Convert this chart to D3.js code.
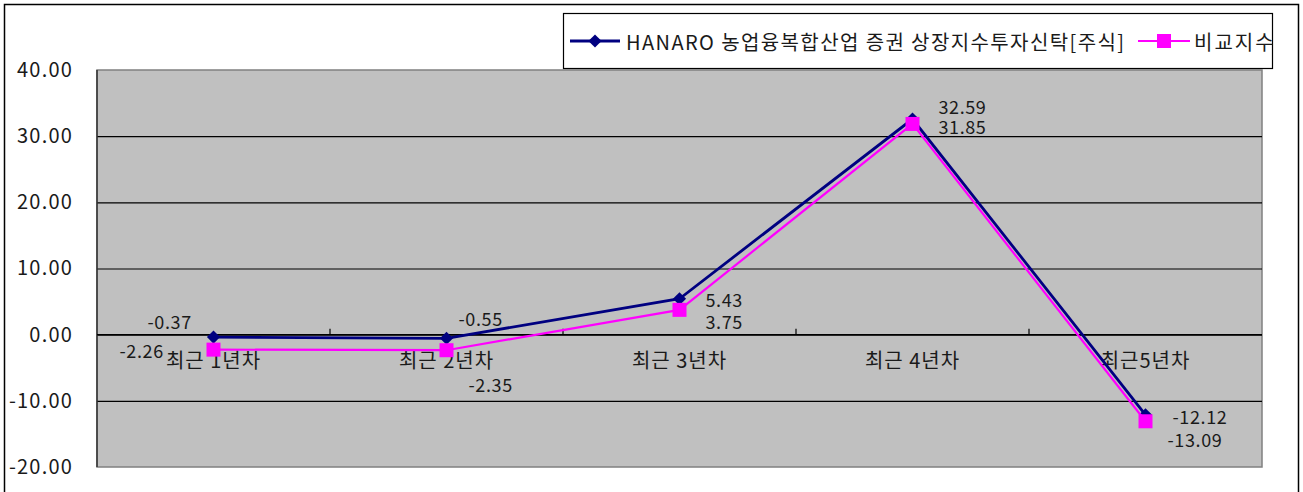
<!DOCTYPE html>
<html>
<head>
<meta charset="utf-8">
<script src="https://cdn.jsdelivr.net/npm/d3@7"></script>
<style>
  body { margin: 0; background: #fff; }
  svg { display: block; }
  text { font-family: "Noto Sans CJK KR", "Noto Sans", sans-serif; fill: #1a1a1a; }
</style>
</head>
<body>
<svg id="chart"></svg>
<script>
// data
const categories = ["최근 1년차", "최근 2년차", "최근 3년차", "최근 4년차", "최근5년차"];
const seriesNames = ["HANARO  농업융복합산업 증권 상장지수투자신탁[주식]", "비교지수"];
const fundValues = [-0.37, -0.55, 5.43, 32.59, -12.12];
const indexValues = [-2.26, -2.35, 3.75, 31.85, -13.09];
const yTicks = [40, 30, 20, 10, 0, -10, -20];

// label placement (offset from the point, text left edge / vertical centre)
const fundLabelOffsets = [[-66, -16], [12, -20], [26, 0], [26, -13], [27, 1]];
const indexLabelOffsets = [[-94, 0], [22, 34], [26, 11], [26, 2], [22, 18]];

const W = 1303, H = 492;
const plot = { left: 97, right: 1262, top: 70, bottom: 467 };

const svg = d3.select('#chart').attr('width', W).attr('height', H);

// outer frame
svg.append('rect')
  .attr('x', 4.5).attr('y', 4.5)
  .attr('width', 1294).attr('height', 520)
  .attr('fill', '#fff')
  .attr('stroke', '#000')
  .attr('stroke-width', 1.5);

const x = d3.scaleBand().domain(categories).range([plot.left, plot.right]);
const cx = d => x(d) + x.bandwidth() / 2;
const y = d3.scaleLinear().domain([-20, 40]).range([plot.bottom, plot.top]);

// plot area
svg.append('rect')
  .attr('x', plot.left).attr('y', plot.top)
  .attr('width', plot.right - plot.left).attr('height', plot.bottom - plot.top)
  .attr('fill', '#c0c0c0')
  .attr('stroke', '#808080')
  .attr('stroke-width', 1.5);

// gridlines
svg.append('g')
  .attr('transform', `translate(${plot.left},0)`)
  .call(d3.axisLeft(y).tickValues(yTicks.filter(v => v !== 40 && v !== -20))
    .tickSize(-(plot.right - plot.left)).tickFormat(''))
  .call(g => g.select('.domain').remove())
  .call(g => g.selectAll('line').attr('stroke', '#000').attr('stroke-width', 1.2));

// left axis line
svg.append('line')
  .attr('x1', plot.left).attr('x2', plot.left)
  .attr('y1', plot.top).attr('y2', plot.bottom)
  .attr('stroke', '#333').attr('stroke-width', 1.5);

// y labels
svg.append('g')
  .attr('transform', `translate(${plot.left},0)`)
  .call(d3.axisLeft(y).tickValues(yTicks).tickSize(0).tickPadding(24)
    .tickFormat(d => d.toFixed(2)))
  .call(g => g.select('.domain').remove())
  .call(g => g.selectAll('text')
    .style('font-family', '"Noto Sans CJK KR", sans-serif')
    .style('font-size', '20px')
    .style('letter-spacing', '1.2px')
    .attr('fill', '#1a1a1a'));

// category axis on zero line
const zeroY = y(0);
svg.append('line')
  .attr('x1', plot.left).attr('x2', plot.right)
  .attr('y1', zeroY).attr('y2', zeroY)
  .attr('stroke', '#000').attr('stroke-width', 1.2);

svg.append('g').selectAll('line')
  .data(categories.slice(1))
  .join('line')
  .attr('x1', d => x(d)).attr('x2', d => x(d))
  .attr('y1', zeroY).attr('y2', zeroY - 6)
  .attr('stroke', '#000').attr('stroke-width', 1.2);

svg.append('g').selectAll('text')
  .data(categories)
  .join('text')
  .attr('x', d => cx(d))
  .attr('y', zeroY + 25)
  .attr('text-anchor', 'middle')
  .attr('dominant-baseline', 'central')
  .style('font-size', '20px')
  .style('letter-spacing', '1px')
  .text(d => d);

// lines
const line = d3.line()
  .x((d, i) => cx(categories[i]))
  .y(d => y(d));

svg.append('path')
  .datum(fundValues)
  .attr('d', line)
  .attr('fill', 'none')
  .attr('stroke', '#000080')
  .attr('stroke-width', 2.8);

const diamond = d3.symbol().type(d3.symbolDiamond2).size(110);
svg.append('g').selectAll('path')
  .data(fundValues)
  .join('path')
  .attr('d', diamond)
  .attr('transform', (d, i) => `translate(${cx(categories[i])},${y(d)})`)
  .attr('fill', '#000080');

svg.append('path')
  .datum(indexValues)
  .attr('d', line)
  .attr('fill', 'none')
  .attr('stroke', '#ff00ff')
  .attr('stroke-width', 2.2);

svg.append('g').selectAll('rect')
  .data(indexValues)
  .join('rect')
  .attr('x', (d, i) => cx(categories[i]) - 7)
  .attr('y', d => y(d) - 7)
  .attr('width', 14).attr('height', 14)
  .attr('fill', '#ff00ff');

// data labels
function addLabels(values, offsets) {
  svg.append('g').selectAll('text')
    .data(values)
    .join('text')
    .attr('x', (d, i) => cx(categories[i]) + offsets[i][0])
    .attr('y', (d, i) => y(d) + offsets[i][1])
    .attr('dominant-baseline', 'central')
    .style('font-size', '18px')
    .style('letter-spacing', '0.6px')
    .text(d => d.toFixed(2));
}
addLabels(fundValues, fundLabelOffsets);
addLabels(indexValues, indexLabelOffsets);

// legend
const legend = svg.append('g');
legend.append('rect')
  .attr('x', 563.5).attr('y', 13.5)
  .attr('width', 709).attr('height', 55)
  .attr('fill', '#fff')
  .attr('stroke', '#000').attr('stroke-width', 1.2);

const ly = 41;
legend.append('line')
  .attr('x1', 570).attr('x2', 620).attr('y1', ly).attr('y2', ly)
  .attr('stroke', '#000080').attr('stroke-width', 2.8);
legend.append('path')
  .attr('d', diamond)
  .attr('transform', `translate(595,${ly})`)
  .attr('fill', '#000080');
legend.append('text')
  .attr('x', 626).attr('y', ly)
  .attr('dominant-baseline', 'central')
  .style('font-size', '20px')
  .style('letter-spacing', '1.4px')
  .text(seriesNames[0]);

legend.append('line')
  .attr('x1', 1138).attr('x2', 1190).attr('y1', ly).attr('y2', ly)
  .attr('stroke', '#ff00ff').attr('stroke-width', 2.2);
legend.append('rect')
  .attr('x', 1157).attr('y', ly - 7)
  .attr('width', 14).attr('height', 14)
  .attr('fill', '#ff00ff');
legend.append('text')
  .attr('x', 1194).attr('y', ly)
  .attr('dominant-baseline', 'central')
  .style('font-size', '20px')
  .style('letter-spacing', '2px')
  .text(seriesNames[1]);
</script>
</body>
</html>
